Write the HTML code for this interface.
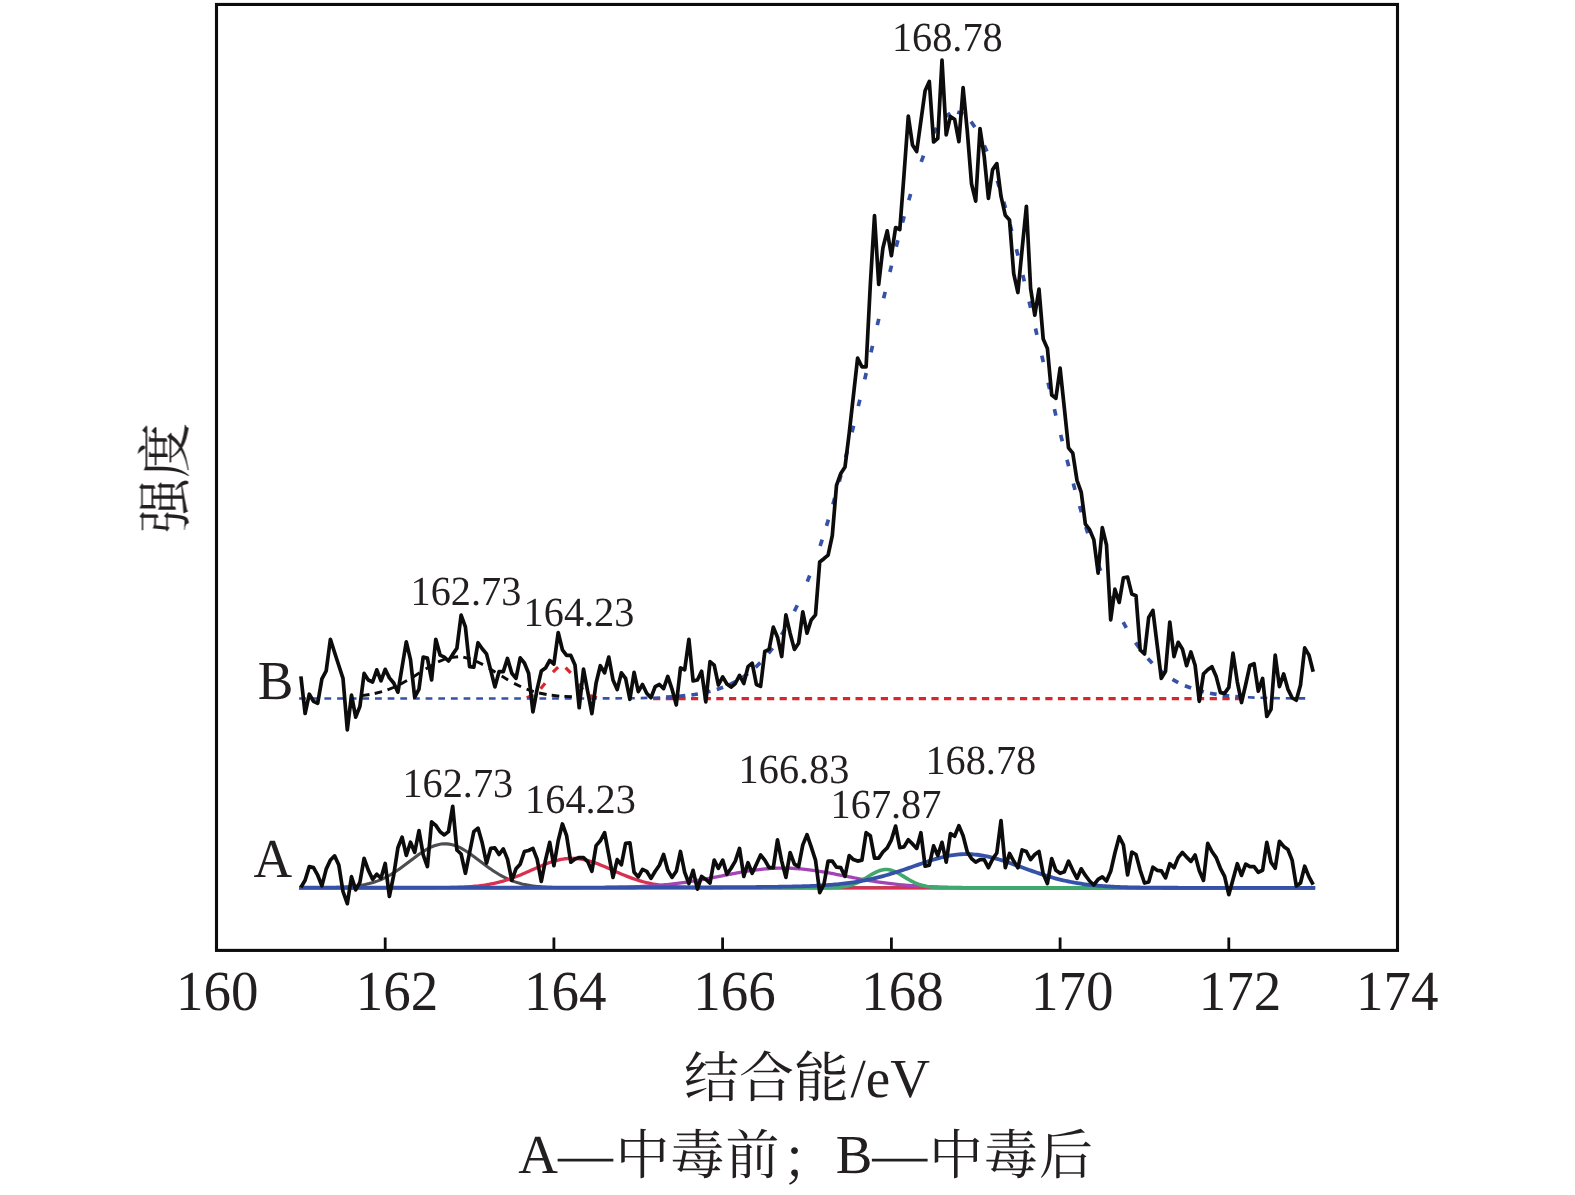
<!DOCTYPE html>
<html lang="zh"><head><meta charset="utf-8"><title>XPS S2p</title>
<style>
html,body{margin:0;padding:0;background:#fff;}
svg{display:block;}
text{font-family:"Liberation Serif","Noto Serif CJK SC",serif;fill:#231f20;text-rendering:geometricPrecision;}
.cj{font-family:"Noto Serif CJK SC","Liberation Serif",serif;}
</style></head><body>
<svg width="1575" height="1195" viewBox="0 0 1575 1195">
<rect width="1575" height="1195" fill="#fff"/>
<path d="M299.1,887.79 L301.1,887.79 L303.1,887.79 L305.1,887.79 L307.1,887.78 L309.1,887.78 L311.1,887.77 L313.1,887.76 L315.1,887.76 L317.1,887.74 L319.1,887.73 L321.1,887.72 L323.1,887.70 L325.1,887.68 L327.1,887.65 L329.1,887.62 L331.1,887.58 L333.1,887.53 L335.1,887.48 L337.1,887.42 L339.1,887.35 L341.1,887.26 L343.1,887.16 L345.1,887.05 L347.1,886.92 L349.1,886.77 L351.1,886.60 L353.1,886.40 L355.1,886.18 L357.1,885.92 L359.1,885.63 L361.1,885.31 L363.1,884.95 L365.1,884.55 L367.1,884.10 L369.1,883.61 L371.1,883.06 L373.1,882.47 L375.1,881.81 L377.1,881.10 L379.1,880.32 L381.1,879.49 L383.1,878.59 L385.1,877.63 L387.1,876.60 L389.1,875.51 L391.1,874.36 L393.1,873.15 L395.1,871.88 L397.1,870.55 L399.1,869.18 L401.1,867.76 L403.1,866.31 L405.1,864.83 L407.1,863.32 L409.1,861.80 L411.1,860.27 L413.1,858.76 L415.1,857.25 L417.1,855.78 L419.1,854.34 L421.1,852.95 L423.1,851.62 L425.1,850.37 L427.1,849.19 L429.1,848.11 L431.1,847.14 L433.1,846.27 L435.1,845.53 L437.1,844.91 L439.1,844.42 L441.1,844.07 L443.1,843.86 L445.1,843.80 L447.1,843.88 L449.1,844.10 L451.1,844.46 L453.1,844.96 L455.1,845.59 L457.1,846.35 L459.1,847.23 L461.1,848.22 L463.1,849.31 L465.1,850.49 L467.1,851.75 L469.1,853.09 L471.1,854.48 L473.1,855.92 L475.1,857.40 L477.1,858.91 L479.1,860.43 L481.1,861.95 L483.1,863.47 L485.1,864.97 L487.1,866.46 L489.1,867.91 L491.1,869.32 L493.1,870.69 L495.1,872.00 L497.1,873.27 L499.1,874.48 L501.1,875.62 L503.1,876.71 L505.1,877.73 L507.1,878.68 L509.1,879.58 L511.1,880.40 L513.1,881.17 L515.1,881.88 L517.1,882.53 L519.1,883.12 L521.1,883.66 L523.1,884.15 L525.1,884.59 L527.1,884.99 L529.1,885.35 L531.1,885.67 L533.1,885.95 L535.1,886.20 L537.1,886.42 L539.1,886.61 L541.1,886.79 L543.1,886.93 L545.1,887.06 L547.1,887.18 L549.1,887.27 L551.1,887.36 L553.1,887.43 L555.1,887.49 L557.1,887.54 L559.1,887.58 L561.1,887.62 L563.1,887.65 L565.1,887.68 L567.1,887.70 L569.1,887.72 L571.1,887.73 L573.1,887.75 L575.1,887.76 L577.1,887.76 L579.1,887.77 L581.1,887.78 L583.1,887.78 L585.1,887.79 L587.1,887.79 L589.1,887.79 L591.1,887.79 L593.1,887.79 L595.1,887.80 L597.1,887.80 L599.1,887.80 L601.1,887.80 L603.1,887.80 L605.1,887.80 L607.1,887.80 L609.1,887.80 L611.1,887.80 L613.1,887.80 L615.1,887.80 L617.1,887.80 L619.1,887.80 L621.1,887.80 L623.1,887.80 L625.1,887.80 L627.1,887.80 L629.1,887.80 L631.1,887.80 L633.1,887.80 L635.1,887.80 L637.1,887.80 L639.1,887.80 L641.1,887.80 L643.1,887.80 L645.1,887.80 L647.1,887.80 L649.1,887.80 L651.1,887.80 L653.1,887.80 L655.1,887.80 L657.1,887.80 L659.1,887.80 L661.1,887.80 L663.1,887.80 L665.1,887.80 L667.1,887.80 L669.1,887.80 L671.1,887.80 L673.1,887.80 L675.1,887.80 L677.1,887.80 L679.1,887.80 L681.1,887.80 L683.1,887.80 L685.1,887.80 L687.1,887.80 L689.1,887.80 L691.1,887.80 L693.1,887.80 L695.1,887.80 L697.1,887.80 L699.1,887.80 L701.1,887.80 L703.1,887.80 L705.1,887.80 L707.1,887.80 L709.1,887.80 L711.1,887.80 L713.1,887.80 L715.1,887.80 L717.1,887.80 L719.1,887.80 L721.1,887.80 L723.1,887.80 L725.1,887.80 L727.1,887.80 L729.1,887.80 L731.1,887.80 L733.1,887.80 L735.1,887.80 L737.1,887.80 L739.1,887.80 L741.1,887.80 L743.1,887.80 L745.1,887.80 L747.1,887.80 L749.1,887.80 L751.1,887.80 L753.1,887.80 L755.1,887.80 L757.1,887.80 L759.1,887.80 L761.1,887.80 L763.1,887.80 L765.1,887.80 L767.1,887.80 L769.1,887.80 L771.1,887.80 L773.1,887.80 L775.1,887.80 L777.1,887.80 L779.1,887.80 L781.1,887.80 L783.1,887.80 L785.1,887.80 L787.1,887.80 L789.1,887.80 L791.1,887.80 L793.1,887.80 L795.1,887.80 L797.1,887.80 L799.1,887.80 L801.1,887.80 L803.1,887.80 L805.1,887.80 L807.1,887.80 L809.1,887.80 L811.1,887.80 L813.1,887.80 L815.1,887.80 L817.1,887.80 L819.1,887.80 L821.1,887.80 L823.1,887.80 L825.1,887.80 L827.1,887.80 L829.1,887.80 L831.1,887.80 L833.1,887.80 L835.1,887.80 L837.1,887.80 L839.1,887.80 L841.1,887.80 L843.1,887.80 L845.1,887.80 L847.1,887.80 L849.1,887.80 L851.1,887.80 L853.1,887.80 L855.1,887.80 L857.1,887.80 L859.1,887.80 L861.1,887.80 L863.1,887.80 L865.1,887.80 L867.1,887.80 L869.1,887.80 L871.1,887.80 L873.1,887.80 L875.1,887.80 L877.1,887.80 L879.1,887.80 L881.1,887.80 L883.1,887.80 L885.1,887.80 L887.1,887.80 L889.1,887.80 L891.1,887.80 L893.1,887.80 L895.1,887.80 L897.1,887.80 L899.1,887.80 L901.1,887.80 L903.1,887.80 L905.1,887.80 L907.1,887.80 L909.1,887.80 L911.1,887.80 L913.1,887.80 L915.1,887.80 L917.1,887.80 L919.1,887.80 L921.1,887.80 L923.1,887.80 L925.1,887.80 L927.1,887.80 L929.1,887.80 L931.1,887.80 L933.1,887.80 L935.1,887.80 L937.1,887.80 L939.1,887.80 L941.1,887.80 L943.1,887.80 L945.1,887.80 L947.1,887.80 L949.1,887.80 L951.1,887.80 L953.1,887.80 L955.1,887.80 L957.1,887.80 L959.1,887.80 L961.1,887.80 L963.1,887.80 L965.1,887.80 L967.1,887.80 L969.1,887.80 L971.1,887.80 L973.1,887.80 L975.1,887.80 L977.1,887.80 L979.1,887.80 L981.1,887.80 L983.1,887.80 L985.1,887.80 L987.1,887.80 L989.1,887.80 L991.1,887.80 L993.1,887.80 L995.1,887.80 L997.1,887.80 L999.1,887.80 L1001.1,887.80 L1003.1,887.80 L1005.1,887.80 L1007.1,887.80 L1009.1,887.80 L1011.1,887.80 L1013.1,887.80 L1015.1,887.80 L1017.1,887.80 L1019.1,887.80 L1021.1,887.80 L1023.1,887.80 L1025.1,887.80 L1027.1,887.80 L1029.1,887.80 L1031.1,887.80 L1033.1,887.80 L1035.1,887.80 L1037.1,887.80 L1039.1,887.80 L1041.1,887.80 L1043.1,887.80 L1045.1,887.80 L1047.1,887.80 L1049.1,887.80 L1051.1,887.80 L1053.1,887.80 L1055.1,887.80 L1057.1,887.80 L1059.1,887.80 L1061.1,887.80 L1063.1,887.80 L1065.1,887.80 L1067.1,887.80 L1069.1,887.80 L1071.1,887.80 L1073.1,887.80 L1075.1,887.80 L1077.1,887.80 L1079.1,887.80 L1081.1,887.80 L1083.1,887.80 L1085.1,887.80 L1087.1,887.80 L1089.1,887.80 L1091.1,887.80 L1093.1,887.80 L1095.1,887.80 L1097.1,887.80 L1099.1,887.80 L1101.1,887.80 L1103.1,887.80 L1105.1,887.80 L1107.1,887.80 L1109.1,887.80 L1111.1,887.80 L1113.1,887.80 L1115.1,887.80 L1117.1,887.80 L1119.1,887.80 L1121.1,887.80 L1123.1,887.80 L1125.1,887.80 L1127.1,887.80 L1129.1,887.80 L1131.1,887.80 L1133.1,887.80 L1135.1,887.80 L1137.1,887.80 L1139.1,887.80 L1141.1,887.80 L1143.1,887.80 L1145.1,887.80 L1147.1,887.80 L1149.1,887.80 L1151.1,887.80 L1153.1,887.80 L1155.1,887.80 L1157.1,887.80 L1159.1,887.80 L1161.1,887.80 L1163.1,887.80 L1165.1,887.80 L1167.1,887.80 L1169.1,887.80 L1171.1,887.80 L1173.1,887.80 L1175.1,887.80 L1177.1,887.80 L1179.1,887.80 L1181.1,887.80 L1183.1,887.80 L1185.1,887.80 L1187.1,887.80 L1189.1,887.80 L1191.1,887.80 L1193.1,887.80 L1195.1,887.80 L1197.1,887.80 L1199.1,887.80 L1201.1,887.80 L1203.1,887.80 L1205.1,887.80 L1207.1,887.80 L1209.1,887.80 L1211.1,887.80 L1213.1,887.80 L1215.1,887.80 L1217.1,887.80 L1219.1,887.80 L1221.1,887.80 L1223.1,887.80 L1225.1,887.80 L1227.1,887.80 L1229.1,887.80 L1231.1,887.80 L1233.1,887.80 L1235.1,887.80 L1237.1,887.80 L1239.1,887.80 L1241.1,887.80 L1243.1,887.80 L1245.1,887.80 L1247.1,887.80 L1249.1,887.80 L1251.1,887.80 L1253.1,887.80 L1255.1,887.80 L1257.1,887.80 L1259.1,887.80 L1261.1,887.80 L1263.1,887.80 L1265.1,887.80 L1267.1,887.80 L1269.1,887.80 L1271.1,887.80 L1273.1,887.80 L1275.1,887.80 L1277.1,887.80 L1279.1,887.80 L1281.1,887.80 L1283.1,887.80 L1285.1,887.80 L1287.1,887.80 L1289.1,887.80 L1291.1,887.80 L1293.1,887.80 L1295.1,887.80 L1297.1,887.80 L1299.1,887.80 L1301.1,887.80 L1303.1,887.80 L1305.1,887.80 L1307.1,887.80 L1309.1,887.80 L1311.1,887.80 L1313.1,887.80 L1315.1,887.80" fill="none" stroke="#4d4d52" stroke-width="3.1" stroke-linejoin="round"/>
<path d="M299.1,887.80 L301.1,887.80 L303.1,887.80 L305.1,887.80 L307.1,887.80 L309.1,887.80 L311.1,887.80 L313.1,887.80 L315.1,887.80 L317.1,887.80 L319.1,887.80 L321.1,887.80 L323.1,887.80 L325.1,887.80 L327.1,887.80 L329.1,887.80 L331.1,887.80 L333.1,887.80 L335.1,887.80 L337.1,887.80 L339.1,887.80 L341.1,887.80 L343.1,887.80 L345.1,887.80 L347.1,887.80 L349.1,887.80 L351.1,887.80 L353.1,887.80 L355.1,887.80 L357.1,887.80 L359.1,887.80 L361.1,887.80 L363.1,887.80 L365.1,887.80 L367.1,887.80 L369.1,887.80 L371.1,887.80 L373.1,887.80 L375.1,887.80 L377.1,887.80 L379.1,887.80 L381.1,887.80 L383.1,887.80 L385.1,887.80 L387.1,887.80 L389.1,887.80 L391.1,887.80 L393.1,887.80 L395.1,887.80 L397.1,887.80 L399.1,887.80 L401.1,887.80 L403.1,887.80 L405.1,887.80 L407.1,887.79 L409.1,887.79 L411.1,887.79 L413.1,887.79 L415.1,887.79 L417.1,887.78 L419.1,887.78 L421.1,887.78 L423.1,887.77 L425.1,887.77 L427.1,887.76 L429.1,887.75 L431.1,887.74 L433.1,887.73 L435.1,887.72 L437.1,887.70 L439.1,887.68 L441.1,887.66 L443.1,887.64 L445.1,887.61 L447.1,887.57 L449.1,887.54 L451.1,887.49 L453.1,887.44 L455.1,887.39 L457.1,887.32 L459.1,887.25 L461.1,887.17 L463.1,887.08 L465.1,886.97 L467.1,886.85 L469.1,886.72 L471.1,886.58 L473.1,886.41 L475.1,886.23 L477.1,886.03 L479.1,885.81 L481.1,885.57 L483.1,885.30 L485.1,885.01 L487.1,884.70 L489.1,884.36 L491.1,883.98 L493.1,883.58 L495.1,883.15 L497.1,882.69 L499.1,882.20 L501.1,881.67 L503.1,881.11 L505.1,880.52 L507.1,879.89 L509.1,879.23 L511.1,878.54 L513.1,877.82 L515.1,877.07 L517.1,876.30 L519.1,875.50 L521.1,874.67 L523.1,873.83 L525.1,872.96 L527.1,872.09 L529.1,871.20 L531.1,870.31 L533.1,869.42 L535.1,868.52 L537.1,867.64 L539.1,866.77 L541.1,865.91 L543.1,865.08 L545.1,864.27 L547.1,863.50 L549.1,862.76 L551.1,862.06 L553.1,861.42 L555.1,860.82 L557.1,860.28 L559.1,859.79 L561.1,859.38 L563.1,859.02 L565.1,858.74 L567.1,858.52 L569.1,858.38 L571.1,858.31 L573.1,858.31 L575.1,858.39 L577.1,858.54 L579.1,858.76 L581.1,859.05 L583.1,859.41 L585.1,859.84 L587.1,860.33 L589.1,860.88 L591.1,861.48 L593.1,862.13 L595.1,862.83 L597.1,863.57 L599.1,864.35 L601.1,865.16 L603.1,866.00 L605.1,866.85 L607.1,867.73 L609.1,868.61 L611.1,869.50 L613.1,870.40 L615.1,871.29 L617.1,872.18 L619.1,873.05 L621.1,873.91 L623.1,874.76 L625.1,875.58 L627.1,876.38 L629.1,877.15 L631.1,877.90 L633.1,878.61 L635.1,879.30 L637.1,879.95 L639.1,880.58 L641.1,881.17 L643.1,881.72 L645.1,882.25 L647.1,882.74 L649.1,883.20 L651.1,883.62 L653.1,884.02 L655.1,884.39 L657.1,884.73 L659.1,885.04 L661.1,885.33 L663.1,885.59 L665.1,885.83 L667.1,886.05 L669.1,886.25 L671.1,886.43 L673.1,886.59 L675.1,886.74 L677.1,886.87 L679.1,886.98 L681.1,887.08 L683.1,887.18 L685.1,887.26 L687.1,887.33 L689.1,887.39 L691.1,887.45 L693.1,887.50 L695.1,887.54 L697.1,887.58 L699.1,887.61 L701.1,887.64 L703.1,887.66 L705.1,887.68 L707.1,887.70 L709.1,887.72 L711.1,887.73 L713.1,887.74 L715.1,887.75 L717.1,887.76 L719.1,887.77 L721.1,887.77 L723.1,887.78 L725.1,887.78 L727.1,887.78 L729.1,887.79 L731.1,887.79 L733.1,887.79 L735.1,887.79 L737.1,887.79 L739.1,887.80 L741.1,887.80 L743.1,887.80 L745.1,887.80 L747.1,887.80 L749.1,887.80 L751.1,887.80 L753.1,887.80 L755.1,887.80 L757.1,887.80 L759.1,887.80 L761.1,887.80 L763.1,887.80 L765.1,887.80 L767.1,887.80 L769.1,887.80 L771.1,887.80 L773.1,887.80 L775.1,887.80 L777.1,887.80 L779.1,887.80 L781.1,887.80 L783.1,887.80 L785.1,887.80 L787.1,887.80 L789.1,887.80 L791.1,887.80 L793.1,887.80 L795.1,887.80 L797.1,887.80 L799.1,887.80 L801.1,887.80 L803.1,887.80 L805.1,887.80 L807.1,887.80 L809.1,887.80 L811.1,887.80 L813.1,887.80 L815.1,887.80 L817.1,887.80 L819.1,887.80 L821.1,887.80 L823.1,887.80 L825.1,887.80 L827.1,887.80 L829.1,887.80 L831.1,887.80 L833.1,887.80 L835.1,887.80 L837.1,887.80 L839.1,887.80 L841.1,887.80 L843.1,887.80 L845.1,887.80 L847.1,887.80 L849.1,887.80 L851.1,887.80 L853.1,887.80 L855.1,887.80 L857.1,887.80 L859.1,887.80 L861.1,887.80 L863.1,887.80 L865.1,887.80 L867.1,887.80 L869.1,887.80 L871.1,887.80 L873.1,887.80 L875.1,887.80 L877.1,887.80 L879.1,887.80 L881.1,887.80 L883.1,887.80 L885.1,887.80 L887.1,887.80 L889.1,887.80 L891.1,887.80 L893.1,887.80 L895.1,887.80 L897.1,887.80 L899.1,887.80 L901.1,887.80 L903.1,887.80 L905.1,887.80 L907.1,887.80 L909.1,887.80 L911.1,887.80 L913.1,887.80 L915.1,887.80 L917.1,887.80 L919.1,887.80 L921.1,887.80 L923.1,887.80 L925.1,887.80 L927.1,887.80 L929.1,887.80 L931.1,887.80 L933.1,887.80 L935.1,887.80 L937.1,887.80 L939.1,887.80 L941.1,887.80 L943.1,887.80 L945.1,887.80 L947.1,887.80 L949.1,887.80 L951.1,887.80 L953.1,887.80 L955.1,887.80 L957.1,887.80 L959.1,887.80 L961.1,887.80 L963.1,887.80 L965.1,887.80 L967.1,887.80 L969.1,887.80 L971.1,887.80 L973.1,887.80 L975.1,887.80 L977.1,887.80 L979.1,887.80 L981.1,887.80 L983.1,887.80 L985.1,887.80 L987.1,887.80 L989.1,887.80 L991.1,887.80 L993.1,887.80 L995.1,887.80 L997.1,887.80 L999.1,887.80 L1001.1,887.80 L1003.1,887.80 L1005.1,887.80 L1007.1,887.80 L1009.1,887.80 L1011.1,887.80 L1013.1,887.80 L1015.1,887.80 L1017.1,887.80 L1019.1,887.80 L1021.1,887.80 L1023.1,887.80 L1025.1,887.80 L1027.1,887.80 L1029.1,887.80 L1031.1,887.80 L1033.1,887.80 L1035.1,887.80 L1037.1,887.80 L1039.1,887.80 L1041.1,887.80 L1043.1,887.80 L1045.1,887.80 L1047.1,887.80 L1049.1,887.80 L1051.1,887.80 L1053.1,887.80 L1055.1,887.80 L1057.1,887.80 L1059.1,887.80 L1061.1,887.80 L1063.1,887.80 L1065.1,887.80 L1067.1,887.80 L1069.1,887.80 L1071.1,887.80 L1073.1,887.80 L1075.1,887.80 L1077.1,887.80 L1079.1,887.80 L1081.1,887.80 L1083.1,887.80 L1085.1,887.80 L1087.1,887.80 L1089.1,887.80 L1091.1,887.80 L1093.1,887.80 L1095.1,887.80 L1097.1,887.80 L1099.1,887.80 L1101.1,887.80 L1103.1,887.80 L1105.1,887.80 L1107.1,887.80 L1109.1,887.80 L1111.1,887.80 L1113.1,887.80 L1115.1,887.80 L1117.1,887.80 L1119.1,887.80 L1121.1,887.80 L1123.1,887.80 L1125.1,887.80 L1127.1,887.80 L1129.1,887.80 L1131.1,887.80 L1133.1,887.80 L1135.1,887.80 L1137.1,887.80 L1139.1,887.80 L1141.1,887.80 L1143.1,887.80 L1145.1,887.80 L1147.1,887.80 L1149.1,887.80 L1151.1,887.80 L1153.1,887.80 L1155.1,887.80 L1157.1,887.80 L1159.1,887.80 L1161.1,887.80 L1163.1,887.80 L1165.1,887.80 L1167.1,887.80 L1169.1,887.80 L1171.1,887.80 L1173.1,887.80 L1175.1,887.80 L1177.1,887.80 L1179.1,887.80 L1181.1,887.80 L1183.1,887.80 L1185.1,887.80 L1187.1,887.80 L1189.1,887.80 L1191.1,887.80 L1193.1,887.80 L1195.1,887.80 L1197.1,887.80 L1199.1,887.80 L1201.1,887.80 L1203.1,887.80 L1205.1,887.80 L1207.1,887.80 L1209.1,887.80 L1211.1,887.80 L1213.1,887.80 L1215.1,887.80 L1217.1,887.80 L1219.1,887.80 L1221.1,887.80 L1223.1,887.80 L1225.1,887.80 L1227.1,887.80 L1229.1,887.80 L1231.1,887.80 L1233.1,887.80 L1235.1,887.80 L1237.1,887.80 L1239.1,887.80 L1241.1,887.80 L1243.1,887.80 L1245.1,887.80 L1247.1,887.80 L1249.1,887.80 L1251.1,887.80 L1253.1,887.80 L1255.1,887.80 L1257.1,887.80 L1259.1,887.80 L1261.1,887.80 L1263.1,887.80 L1265.1,887.80 L1267.1,887.80 L1269.1,887.80 L1271.1,887.80 L1273.1,887.80 L1275.1,887.80 L1277.1,887.80 L1279.1,887.80 L1281.1,887.80 L1283.1,887.80 L1285.1,887.80 L1287.1,887.80 L1289.1,887.80 L1291.1,887.80 L1293.1,887.80 L1295.1,887.80 L1297.1,887.80 L1299.1,887.80 L1301.1,887.80 L1303.1,887.80 L1305.1,887.80 L1307.1,887.80 L1309.1,887.80 L1311.1,887.80 L1313.1,887.80 L1315.1,887.80" fill="none" stroke="#d8304f" stroke-width="3.3" stroke-linejoin="round"/>
<path d="M299.1,887.80 L301.1,887.80 L303.1,887.80 L305.1,887.80 L307.1,887.80 L309.1,887.80 L311.1,887.80 L313.1,887.80 L315.1,887.80 L317.1,887.80 L319.1,887.80 L321.1,887.80 L323.1,887.80 L325.1,887.80 L327.1,887.80 L329.1,887.80 L331.1,887.80 L333.1,887.80 L335.1,887.80 L337.1,887.80 L339.1,887.80 L341.1,887.80 L343.1,887.80 L345.1,887.80 L347.1,887.80 L349.1,887.80 L351.1,887.80 L353.1,887.80 L355.1,887.80 L357.1,887.80 L359.1,887.80 L361.1,887.80 L363.1,887.80 L365.1,887.80 L367.1,887.80 L369.1,887.80 L371.1,887.80 L373.1,887.80 L375.1,887.80 L377.1,887.80 L379.1,887.80 L381.1,887.80 L383.1,887.80 L385.1,887.80 L387.1,887.80 L389.1,887.80 L391.1,887.80 L393.1,887.80 L395.1,887.80 L397.1,887.80 L399.1,887.80 L401.1,887.80 L403.1,887.80 L405.1,887.80 L407.1,887.80 L409.1,887.80 L411.1,887.80 L413.1,887.80 L415.1,887.80 L417.1,887.80 L419.1,887.80 L421.1,887.80 L423.1,887.80 L425.1,887.80 L427.1,887.80 L429.1,887.80 L431.1,887.80 L433.1,887.80 L435.1,887.80 L437.1,887.80 L439.1,887.80 L441.1,887.80 L443.1,887.80 L445.1,887.80 L447.1,887.80 L449.1,887.80 L451.1,887.80 L453.1,887.80 L455.1,887.80 L457.1,887.80 L459.1,887.80 L461.1,887.80 L463.1,887.80 L465.1,887.80 L467.1,887.80 L469.1,887.80 L471.1,887.80 L473.1,887.80 L475.1,887.80 L477.1,887.80 L479.1,887.80 L481.1,887.80 L483.1,887.80 L485.1,887.80 L487.1,887.80 L489.1,887.80 L491.1,887.80 L493.1,887.80 L495.1,887.80 L497.1,887.80 L499.1,887.80 L501.1,887.80 L503.1,887.80 L505.1,887.80 L507.1,887.80 L509.1,887.80 L511.1,887.80 L513.1,887.80 L515.1,887.80 L517.1,887.80 L519.1,887.80 L521.1,887.80 L523.1,887.80 L525.1,887.80 L527.1,887.80 L529.1,887.80 L531.1,887.80 L533.1,887.80 L535.1,887.79 L537.1,887.79 L539.1,887.79 L541.1,887.79 L543.1,887.79 L545.1,887.79 L547.1,887.79 L549.1,887.79 L551.1,887.79 L553.1,887.78 L555.1,887.78 L557.1,887.78 L559.1,887.78 L561.1,887.77 L563.1,887.77 L565.1,887.77 L567.1,887.76 L569.1,887.76 L571.1,887.75 L573.1,887.75 L575.1,887.74 L577.1,887.73 L579.1,887.73 L581.1,887.72 L583.1,887.71 L585.1,887.70 L587.1,887.69 L589.1,887.67 L591.1,887.66 L593.1,887.65 L595.1,887.63 L597.1,887.61 L599.1,887.59 L601.1,887.57 L603.1,887.55 L605.1,887.52 L607.1,887.49 L609.1,887.46 L611.1,887.43 L613.1,887.39 L615.1,887.35 L617.1,887.31 L619.1,887.27 L621.1,887.22 L623.1,887.17 L625.1,887.11 L627.1,887.05 L629.1,886.98 L631.1,886.91 L633.1,886.84 L635.1,886.76 L637.1,886.67 L639.1,886.58 L641.1,886.48 L643.1,886.38 L645.1,886.27 L647.1,886.15 L649.1,886.03 L651.1,885.90 L653.1,885.76 L655.1,885.61 L657.1,885.46 L659.1,885.30 L661.1,885.13 L663.1,884.95 L665.1,884.76 L667.1,884.56 L669.1,884.35 L671.1,884.14 L673.1,883.91 L675.1,883.68 L677.1,883.43 L679.1,883.18 L681.1,882.92 L683.1,882.65 L685.1,882.37 L687.1,882.08 L689.1,881.78 L691.1,881.47 L693.1,881.15 L695.1,880.82 L697.1,880.49 L699.1,880.15 L701.1,879.80 L703.1,879.45 L705.1,879.08 L707.1,878.72 L709.1,878.34 L711.1,877.96 L713.1,877.58 L715.1,877.20 L717.1,876.81 L719.1,876.42 L721.1,876.03 L723.1,875.64 L725.1,875.24 L727.1,874.85 L729.1,874.47 L731.1,874.08 L733.1,873.70 L735.1,873.33 L737.1,872.96 L739.1,872.59 L741.1,872.24 L743.1,871.89 L745.1,871.56 L747.1,871.23 L749.1,870.92 L751.1,870.62 L753.1,870.33 L755.1,870.06 L757.1,869.80 L759.1,869.56 L761.1,869.33 L763.1,869.12 L765.1,868.93 L767.1,868.76 L769.1,868.60 L771.1,868.47 L773.1,868.36 L775.1,868.26 L777.1,868.19 L779.1,868.14 L781.1,868.11 L783.1,868.10 L785.1,868.11 L787.1,868.14 L789.1,868.20 L791.1,868.27 L793.1,868.37 L795.1,868.48 L797.1,868.62 L799.1,868.77 L801.1,868.95 L803.1,869.14 L805.1,869.35 L807.1,869.58 L809.1,869.82 L811.1,870.08 L813.1,870.36 L815.1,870.65 L817.1,870.95 L819.1,871.26 L821.1,871.59 L823.1,871.93 L825.1,872.27 L827.1,872.63 L829.1,872.99 L831.1,873.36 L833.1,873.74 L835.1,874.12 L837.1,874.51 L839.1,874.89 L841.1,875.28 L843.1,875.68 L845.1,876.07 L847.1,876.46 L849.1,876.85 L851.1,877.24 L853.1,877.62 L855.1,878.00 L857.1,878.38 L859.1,878.75 L861.1,879.12 L863.1,879.48 L865.1,879.84 L867.1,880.18 L869.1,880.52 L871.1,880.86 L873.1,881.18 L875.1,881.50 L877.1,881.81 L879.1,882.10 L881.1,882.39 L883.1,882.67 L885.1,882.95 L887.1,883.21 L889.1,883.46 L891.1,883.70 L893.1,883.94 L895.1,884.16 L897.1,884.37 L899.1,884.58 L901.1,884.78 L903.1,884.96 L905.1,885.14 L907.1,885.31 L909.1,885.47 L911.1,885.63 L913.1,885.77 L915.1,885.91 L917.1,886.04 L919.1,886.17 L921.1,886.28 L923.1,886.39 L925.1,886.49 L927.1,886.59 L929.1,886.68 L931.1,886.77 L933.1,886.85 L935.1,886.92 L937.1,886.99 L939.1,887.05 L941.1,887.11 L943.1,887.17 L945.1,887.22 L947.1,887.27 L949.1,887.32 L951.1,887.36 L953.1,887.40 L955.1,887.43 L957.1,887.46 L959.1,887.49 L961.1,887.52 L963.1,887.55 L965.1,887.57 L967.1,887.59 L969.1,887.61 L971.1,887.63 L973.1,887.65 L975.1,887.66 L977.1,887.68 L979.1,887.69 L981.1,887.70 L983.1,887.71 L985.1,887.72 L987.1,887.73 L989.1,887.73 L991.1,887.74 L993.1,887.75 L995.1,887.75 L997.1,887.76 L999.1,887.76 L1001.1,887.77 L1003.1,887.77 L1005.1,887.77 L1007.1,887.78 L1009.1,887.78 L1011.1,887.78 L1013.1,887.78 L1015.1,887.79 L1017.1,887.79 L1019.1,887.79 L1021.1,887.79 L1023.1,887.79 L1025.1,887.79 L1027.1,887.79 L1029.1,887.79 L1031.1,887.79 L1033.1,887.80 L1035.1,887.80 L1037.1,887.80 L1039.1,887.80 L1041.1,887.80 L1043.1,887.80 L1045.1,887.80 L1047.1,887.80 L1049.1,887.80 L1051.1,887.80 L1053.1,887.80 L1055.1,887.80 L1057.1,887.80 L1059.1,887.80 L1061.1,887.80 L1063.1,887.80 L1065.1,887.80 L1067.1,887.80 L1069.1,887.80 L1071.1,887.80 L1073.1,887.80 L1075.1,887.80 L1077.1,887.80 L1079.1,887.80 L1081.1,887.80 L1083.1,887.80 L1085.1,887.80 L1087.1,887.80 L1089.1,887.80 L1091.1,887.80 L1093.1,887.80 L1095.1,887.80 L1097.1,887.80 L1099.1,887.80 L1101.1,887.80 L1103.1,887.80 L1105.1,887.80 L1107.1,887.80 L1109.1,887.80 L1111.1,887.80 L1113.1,887.80 L1115.1,887.80 L1117.1,887.80 L1119.1,887.80 L1121.1,887.80 L1123.1,887.80 L1125.1,887.80 L1127.1,887.80 L1129.1,887.80 L1131.1,887.80 L1133.1,887.80 L1135.1,887.80 L1137.1,887.80 L1139.1,887.80 L1141.1,887.80 L1143.1,887.80 L1145.1,887.80 L1147.1,887.80 L1149.1,887.80 L1151.1,887.80 L1153.1,887.80 L1155.1,887.80 L1157.1,887.80 L1159.1,887.80 L1161.1,887.80 L1163.1,887.80 L1165.1,887.80 L1167.1,887.80 L1169.1,887.80 L1171.1,887.80 L1173.1,887.80 L1175.1,887.80 L1177.1,887.80 L1179.1,887.80 L1181.1,887.80 L1183.1,887.80 L1185.1,887.80 L1187.1,887.80 L1189.1,887.80 L1191.1,887.80 L1193.1,887.80 L1195.1,887.80 L1197.1,887.80 L1199.1,887.80 L1201.1,887.80 L1203.1,887.80 L1205.1,887.80 L1207.1,887.80 L1209.1,887.80 L1211.1,887.80 L1213.1,887.80 L1215.1,887.80 L1217.1,887.80 L1219.1,887.80 L1221.1,887.80 L1223.1,887.80 L1225.1,887.80 L1227.1,887.80 L1229.1,887.80 L1231.1,887.80 L1233.1,887.80 L1235.1,887.80 L1237.1,887.80 L1239.1,887.80 L1241.1,887.80 L1243.1,887.80 L1245.1,887.80 L1247.1,887.80 L1249.1,887.80 L1251.1,887.80 L1253.1,887.80 L1255.1,887.80 L1257.1,887.80 L1259.1,887.80 L1261.1,887.80 L1263.1,887.80 L1265.1,887.80 L1267.1,887.80 L1269.1,887.80 L1271.1,887.80 L1273.1,887.80 L1275.1,887.80 L1277.1,887.80 L1279.1,887.80 L1281.1,887.80 L1283.1,887.80 L1285.1,887.80 L1287.1,887.80 L1289.1,887.80 L1291.1,887.80 L1293.1,887.80 L1295.1,887.80 L1297.1,887.80 L1299.1,887.80 L1301.1,887.80 L1303.1,887.80 L1305.1,887.80 L1307.1,887.80 L1309.1,887.80 L1311.1,887.80 L1313.1,887.80 L1315.1,887.80" fill="none" stroke="#a244b4" stroke-width="3.3" stroke-linejoin="round"/>
<path d="M299.1,887.80 L301.1,887.80 L303.1,887.80 L305.1,887.80 L307.1,887.80 L309.1,887.80 L311.1,887.80 L313.1,887.80 L315.1,887.80 L317.1,887.80 L319.1,887.80 L321.1,887.80 L323.1,887.80 L325.1,887.80 L327.1,887.80 L329.1,887.80 L331.1,887.80 L333.1,887.80 L335.1,887.80 L337.1,887.80 L339.1,887.80 L341.1,887.80 L343.1,887.80 L345.1,887.80 L347.1,887.80 L349.1,887.80 L351.1,887.80 L353.1,887.80 L355.1,887.80 L357.1,887.80 L359.1,887.80 L361.1,887.80 L363.1,887.80 L365.1,887.80 L367.1,887.80 L369.1,887.80 L371.1,887.80 L373.1,887.80 L375.1,887.80 L377.1,887.80 L379.1,887.80 L381.1,887.80 L383.1,887.80 L385.1,887.80 L387.1,887.80 L389.1,887.80 L391.1,887.80 L393.1,887.80 L395.1,887.80 L397.1,887.80 L399.1,887.80 L401.1,887.80 L403.1,887.80 L405.1,887.80 L407.1,887.80 L409.1,887.80 L411.1,887.80 L413.1,887.80 L415.1,887.80 L417.1,887.80 L419.1,887.80 L421.1,887.80 L423.1,887.80 L425.1,887.80 L427.1,887.80 L429.1,887.80 L431.1,887.80 L433.1,887.80 L435.1,887.80 L437.1,887.80 L439.1,887.80 L441.1,887.80 L443.1,887.80 L445.1,887.80 L447.1,887.80 L449.1,887.80 L451.1,887.80 L453.1,887.80 L455.1,887.80 L457.1,887.80 L459.1,887.80 L461.1,887.80 L463.1,887.80 L465.1,887.80 L467.1,887.80 L469.1,887.80 L471.1,887.80 L473.1,887.80 L475.1,887.80 L477.1,887.80 L479.1,887.80 L481.1,887.80 L483.1,887.80 L485.1,887.80 L487.1,887.80 L489.1,887.80 L491.1,887.80 L493.1,887.80 L495.1,887.80 L497.1,887.80 L499.1,887.80 L501.1,887.80 L503.1,887.80 L505.1,887.80 L507.1,887.80 L509.1,887.80 L511.1,887.80 L513.1,887.80 L515.1,887.80 L517.1,887.80 L519.1,887.80 L521.1,887.80 L523.1,887.80 L525.1,887.80 L527.1,887.80 L529.1,887.80 L531.1,887.80 L533.1,887.80 L535.1,887.80 L537.1,887.80 L539.1,887.80 L541.1,887.80 L543.1,887.80 L545.1,887.80 L547.1,887.80 L549.1,887.80 L551.1,887.80 L553.1,887.80 L555.1,887.80 L557.1,887.80 L559.1,887.80 L561.1,887.80 L563.1,887.80 L565.1,887.80 L567.1,887.80 L569.1,887.80 L571.1,887.80 L573.1,887.80 L575.1,887.80 L577.1,887.80 L579.1,887.80 L581.1,887.80 L583.1,887.80 L585.1,887.80 L587.1,887.80 L589.1,887.80 L591.1,887.80 L593.1,887.80 L595.1,887.80 L597.1,887.80 L599.1,887.80 L601.1,887.80 L603.1,887.80 L605.1,887.80 L607.1,887.80 L609.1,887.80 L611.1,887.80 L613.1,887.80 L615.1,887.80 L617.1,887.80 L619.1,887.80 L621.1,887.80 L623.1,887.80 L625.1,887.80 L627.1,887.80 L629.1,887.80 L631.1,887.80 L633.1,887.80 L635.1,887.80 L637.1,887.80 L639.1,887.80 L641.1,887.80 L643.1,887.80 L645.1,887.80 L647.1,887.80 L649.1,887.80 L651.1,887.80 L653.1,887.80 L655.1,887.80 L657.1,887.80 L659.1,887.80 L661.1,887.80 L663.1,887.80 L665.1,887.80 L667.1,887.80 L669.1,887.80 L671.1,887.80 L673.1,887.80 L675.1,887.80 L677.1,887.80 L679.1,887.80 L681.1,887.80 L683.1,887.80 L685.1,887.80 L687.1,887.80 L689.1,887.80 L691.1,887.80 L693.1,887.80 L695.1,887.80 L697.1,887.80 L699.1,887.80 L701.1,887.80 L703.1,887.80 L705.1,887.80 L707.1,887.80 L709.1,887.80 L711.1,887.80 L713.1,887.80 L715.1,887.80 L717.1,887.80 L719.1,887.80 L721.1,887.80 L723.1,887.80 L725.1,887.80 L727.1,887.80 L729.1,887.80 L731.1,887.80 L733.1,887.80 L735.1,887.80 L737.1,887.80 L739.1,887.80 L741.1,887.80 L743.1,887.80 L745.1,887.80 L747.1,887.80 L749.1,887.80 L751.1,887.80 L753.1,887.80 L755.1,887.80 L757.1,887.80 L759.1,887.80 L761.1,887.80 L763.1,887.80 L765.1,887.80 L767.1,887.80 L769.1,887.80 L771.1,887.80 L773.1,887.80 L775.1,887.80 L777.1,887.80 L779.1,887.80 L781.1,887.80 L783.1,887.80 L785.1,887.80 L787.1,887.80 L789.1,887.80 L791.1,887.80 L793.1,887.80 L795.1,887.80 L797.1,887.80 L799.1,887.80 L801.1,887.80 L803.1,887.80 L805.1,887.80 L807.1,887.80 L809.1,887.80 L811.1,887.80 L813.1,887.79 L815.1,887.79 L817.1,887.79 L819.1,887.78 L821.1,887.77 L823.1,887.76 L825.1,887.74 L827.1,887.71 L829.1,887.68 L831.1,887.63 L833.1,887.56 L835.1,887.46 L837.1,887.34 L839.1,887.19 L841.1,886.98 L843.1,886.73 L845.1,886.42 L847.1,886.03 L849.1,885.56 L851.1,885.01 L853.1,884.36 L855.1,883.61 L857.1,882.76 L859.1,881.81 L861.1,880.77 L863.1,879.65 L865.1,878.47 L867.1,877.26 L869.1,876.02 L871.1,874.81 L873.1,873.64 L875.1,872.57 L877.1,871.61 L879.1,870.80 L881.1,870.17 L883.1,869.74 L885.1,869.52 L887.1,869.53 L889.1,869.77 L891.1,870.22 L893.1,870.87 L895.1,871.70 L897.1,872.67 L899.1,873.76 L901.1,874.93 L903.1,876.15 L905.1,877.38 L907.1,878.59 L909.1,879.77 L911.1,880.88 L913.1,881.91 L915.1,882.85 L917.1,883.69 L919.1,884.43 L921.1,885.07 L923.1,885.61 L925.1,886.07 L927.1,886.45 L929.1,886.76 L931.1,887.01 L933.1,887.20 L935.1,887.36 L937.1,887.47 L939.1,887.56 L941.1,887.63 L943.1,887.68 L945.1,887.72 L947.1,887.74 L949.1,887.76 L951.1,887.77 L953.1,887.78 L955.1,887.79 L957.1,887.79 L959.1,887.80 L961.1,887.80 L963.1,887.80 L965.1,887.80 L967.1,887.80 L969.1,887.80 L971.1,887.80 L973.1,887.80 L975.1,887.80 L977.1,887.80 L979.1,887.80 L981.1,887.80 L983.1,887.80 L985.1,887.80 L987.1,887.80 L989.1,887.80 L991.1,887.80 L993.1,887.80 L995.1,887.80 L997.1,887.80 L999.1,887.80 L1001.1,887.80 L1003.1,887.80 L1005.1,887.80 L1007.1,887.80 L1009.1,887.80 L1011.1,887.80 L1013.1,887.80 L1015.1,887.80 L1017.1,887.80 L1019.1,887.80 L1021.1,887.80 L1023.1,887.80 L1025.1,887.80 L1027.1,887.80 L1029.1,887.80 L1031.1,887.80 L1033.1,887.80 L1035.1,887.80 L1037.1,887.80 L1039.1,887.80 L1041.1,887.80 L1043.1,887.80 L1045.1,887.80 L1047.1,887.80 L1049.1,887.80 L1051.1,887.80 L1053.1,887.80 L1055.1,887.80 L1057.1,887.80 L1059.1,887.80 L1061.1,887.80 L1063.1,887.80 L1065.1,887.80 L1067.1,887.80 L1069.1,887.80 L1071.1,887.80 L1073.1,887.80 L1075.1,887.80 L1077.1,887.80 L1079.1,887.80 L1081.1,887.80 L1083.1,887.80 L1085.1,887.80 L1087.1,887.80 L1089.1,887.80 L1091.1,887.80 L1093.1,887.80 L1095.1,887.80 L1097.1,887.80 L1099.1,887.80 L1101.1,887.80 L1103.1,887.80 L1105.1,887.80 L1107.1,887.80 L1109.1,887.80 L1111.1,887.80 L1113.1,887.80 L1115.1,887.80 L1117.1,887.80 L1119.1,887.80 L1121.1,887.80 L1123.1,887.80 L1125.1,887.80 L1127.1,887.80 L1129.1,887.80 L1131.1,887.80 L1133.1,887.80 L1135.1,887.80 L1137.1,887.80 L1139.1,887.80 L1141.1,887.80 L1143.1,887.80 L1145.1,887.80 L1147.1,887.80 L1149.1,887.80 L1151.1,887.80 L1153.1,887.80 L1155.1,887.80 L1157.1,887.80 L1159.1,887.80 L1161.1,887.80 L1163.1,887.80 L1165.1,887.80 L1167.1,887.80 L1169.1,887.80 L1171.1,887.80 L1173.1,887.80 L1175.1,887.80 L1177.1,887.80 L1179.1,887.80 L1181.1,887.80 L1183.1,887.80 L1185.1,887.80 L1187.1,887.80 L1189.1,887.80 L1191.1,887.80 L1193.1,887.80 L1195.1,887.80 L1197.1,887.80 L1199.1,887.80 L1201.1,887.80 L1203.1,887.80 L1205.1,887.80 L1207.1,887.80 L1209.1,887.80 L1211.1,887.80 L1213.1,887.80 L1215.1,887.80 L1217.1,887.80 L1219.1,887.80 L1221.1,887.80 L1223.1,887.80 L1225.1,887.80 L1227.1,887.80 L1229.1,887.80 L1231.1,887.80 L1233.1,887.80 L1235.1,887.80 L1237.1,887.80 L1239.1,887.80 L1241.1,887.80 L1243.1,887.80 L1245.1,887.80 L1247.1,887.80 L1249.1,887.80 L1251.1,887.80 L1253.1,887.80 L1255.1,887.80 L1257.1,887.80 L1259.1,887.80 L1261.1,887.80 L1263.1,887.80 L1265.1,887.80 L1267.1,887.80 L1269.1,887.80 L1271.1,887.80 L1273.1,887.80 L1275.1,887.80 L1277.1,887.80 L1279.1,887.80 L1281.1,887.80 L1283.1,887.80 L1285.1,887.80 L1287.1,887.80 L1289.1,887.80 L1291.1,887.80 L1293.1,887.80 L1295.1,887.80 L1297.1,887.80 L1299.1,887.80 L1301.1,887.80 L1303.1,887.80 L1305.1,887.80 L1307.1,887.80 L1309.1,887.80 L1311.1,887.80 L1313.1,887.80 L1315.1,887.80" fill="none" stroke="#41a86d" stroke-width="3.6" stroke-linejoin="round"/>
<path d="M299.1,887.72 L301.1,887.72 L303.1,887.72 L305.1,887.72 L307.1,887.72 L309.1,887.72 L311.1,887.72 L313.1,887.71 L315.1,887.71 L317.1,887.71 L319.1,887.71 L321.1,887.71 L323.1,887.71 L325.1,887.71 L327.1,887.71 L329.1,887.71 L331.1,887.71 L333.1,887.71 L335.1,887.71 L337.1,887.71 L339.1,887.71 L341.1,887.71 L343.1,887.71 L345.1,887.71 L347.1,887.71 L349.1,887.70 L351.1,887.70 L353.1,887.70 L355.1,887.70 L357.1,887.70 L359.1,887.70 L361.1,887.70 L363.1,887.70 L365.1,887.70 L367.1,887.70 L369.1,887.70 L371.1,887.70 L373.1,887.70 L375.1,887.70 L377.1,887.70 L379.1,887.69 L381.1,887.69 L383.1,887.69 L385.1,887.69 L387.1,887.69 L389.1,887.69 L391.1,887.69 L393.1,887.69 L395.1,887.69 L397.1,887.69 L399.1,887.69 L401.1,887.69 L403.1,887.69 L405.1,887.69 L407.1,887.68 L409.1,887.68 L411.1,887.68 L413.1,887.68 L415.1,887.68 L417.1,887.68 L419.1,887.68 L421.1,887.68 L423.1,887.68 L425.1,887.68 L427.1,887.68 L429.1,887.67 L431.1,887.67 L433.1,887.67 L435.1,887.67 L437.1,887.67 L439.1,887.67 L441.1,887.67 L443.1,887.67 L445.1,887.67 L447.1,887.67 L449.1,887.67 L451.1,887.66 L453.1,887.66 L455.1,887.66 L457.1,887.66 L459.1,887.66 L461.1,887.66 L463.1,887.66 L465.1,887.66 L467.1,887.66 L469.1,887.65 L471.1,887.65 L473.1,887.65 L475.1,887.65 L477.1,887.65 L479.1,887.65 L481.1,887.65 L483.1,887.65 L485.1,887.64 L487.1,887.64 L489.1,887.64 L491.1,887.64 L493.1,887.64 L495.1,887.64 L497.1,887.64 L499.1,887.64 L501.1,887.63 L503.1,887.63 L505.1,887.63 L507.1,887.63 L509.1,887.63 L511.1,887.63 L513.1,887.63 L515.1,887.62 L517.1,887.62 L519.1,887.62 L521.1,887.62 L523.1,887.62 L525.1,887.62 L527.1,887.61 L529.1,887.61 L531.1,887.61 L533.1,887.61 L535.1,887.61 L537.1,887.61 L539.1,887.60 L541.1,887.60 L543.1,887.60 L545.1,887.60 L547.1,887.60 L549.1,887.59 L551.1,887.59 L553.1,887.59 L555.1,887.59 L557.1,887.59 L559.1,887.58 L561.1,887.58 L563.1,887.58 L565.1,887.58 L567.1,887.58 L569.1,887.57 L571.1,887.57 L573.1,887.57 L575.1,887.57 L577.1,887.56 L579.1,887.56 L581.1,887.56 L583.1,887.56 L585.1,887.55 L587.1,887.55 L589.1,887.55 L591.1,887.55 L593.1,887.54 L595.1,887.54 L597.1,887.54 L599.1,887.54 L601.1,887.53 L603.1,887.53 L605.1,887.53 L607.1,887.52 L609.1,887.52 L611.1,887.52 L613.1,887.52 L615.1,887.51 L617.1,887.51 L619.1,887.51 L621.1,887.50 L623.1,887.50 L625.1,887.50 L627.1,887.49 L629.1,887.49 L631.1,887.49 L633.1,887.48 L635.1,887.48 L637.1,887.47 L639.1,887.47 L641.1,887.47 L643.1,887.46 L645.1,887.46 L647.1,887.45 L649.1,887.45 L651.1,887.45 L653.1,887.44 L655.1,887.44 L657.1,887.43 L659.1,887.43 L661.1,887.42 L663.1,887.42 L665.1,887.41 L667.1,887.41 L669.1,887.40 L671.1,887.40 L673.1,887.39 L675.1,887.39 L677.1,887.38 L679.1,887.38 L681.1,887.37 L683.1,887.37 L685.1,887.36 L687.1,887.35 L689.1,887.35 L691.1,887.34 L693.1,887.34 L695.1,887.33 L697.1,887.32 L699.1,887.32 L701.1,887.31 L703.1,887.30 L705.1,887.29 L707.1,887.29 L709.1,887.28 L711.1,887.27 L713.1,887.26 L715.1,887.25 L717.1,887.25 L719.1,887.24 L721.1,887.23 L723.1,887.22 L725.1,887.21 L727.1,887.20 L729.1,887.19 L731.1,887.18 L733.1,887.17 L735.1,887.16 L737.1,887.15 L739.1,887.14 L741.1,887.13 L743.1,887.11 L745.1,887.10 L747.1,887.09 L749.1,887.07 L751.1,887.06 L753.1,887.04 L755.1,887.03 L757.1,887.01 L759.1,887.00 L761.1,886.98 L763.1,886.96 L765.1,886.94 L767.1,886.92 L769.1,886.90 L771.1,886.88 L773.1,886.85 L775.1,886.83 L777.1,886.80 L779.1,886.77 L781.1,886.74 L783.1,886.71 L785.1,886.68 L787.1,886.64 L789.1,886.60 L791.1,886.56 L793.1,886.52 L795.1,886.47 L797.1,886.42 L799.1,886.36 L801.1,886.31 L803.1,886.25 L805.1,886.18 L807.1,886.11 L809.1,886.04 L811.1,885.96 L813.1,885.87 L815.1,885.78 L817.1,885.68 L819.1,885.58 L821.1,885.47 L823.1,885.35 L825.1,885.22 L827.1,885.08 L829.1,884.94 L831.1,884.79 L833.1,884.62 L835.1,884.45 L837.1,884.27 L839.1,884.07 L841.1,883.86 L843.1,883.64 L845.1,883.41 L847.1,883.17 L849.1,882.91 L851.1,882.63 L853.1,882.35 L855.1,882.04 L857.1,881.72 L859.1,881.39 L861.1,881.04 L863.1,880.68 L865.1,880.29 L867.1,879.89 L869.1,879.48 L871.1,879.04 L873.1,878.59 L875.1,878.13 L877.1,877.64 L879.1,877.14 L881.1,876.62 L883.1,876.09 L885.1,875.53 L887.1,874.97 L889.1,874.39 L891.1,873.79 L893.1,873.18 L895.1,872.55 L897.1,871.92 L899.1,871.27 L901.1,870.61 L903.1,869.94 L905.1,869.26 L907.1,868.58 L909.1,867.89 L911.1,867.19 L913.1,866.50 L915.1,865.80 L917.1,865.10 L919.1,864.41 L921.1,863.72 L923.1,863.03 L925.1,862.36 L927.1,861.69 L929.1,861.04 L931.1,860.41 L933.1,859.79 L935.1,859.19 L937.1,858.61 L939.1,858.06 L941.1,857.53 L943.1,857.03 L945.1,856.57 L947.1,856.14 L949.1,855.74 L951.1,855.39 L953.1,855.07 L955.1,854.80 L957.1,854.57 L959.1,854.38 L961.1,854.24 L963.1,854.15 L965.1,854.10 L967.1,854.11 L969.1,854.15 L971.1,854.24 L973.1,854.37 L975.1,854.54 L977.1,854.76 L979.1,855.01 L981.1,855.30 L983.1,855.64 L985.1,856.00 L987.1,856.41 L989.1,856.85 L991.1,857.32 L993.1,857.82 L995.1,858.36 L997.1,858.92 L999.1,859.50 L1001.1,860.11 L1003.1,860.74 L1005.1,861.39 L1007.1,862.06 L1009.1,862.74 L1011.1,863.43 L1013.1,864.14 L1015.1,864.85 L1017.1,865.58 L1019.1,866.30 L1021.1,867.03 L1023.1,867.76 L1025.1,868.49 L1027.1,869.22 L1029.1,869.94 L1031.1,870.65 L1033.1,871.36 L1035.1,872.06 L1037.1,872.75 L1039.1,873.42 L1041.1,874.09 L1043.1,874.74 L1045.1,875.37 L1047.1,875.99 L1049.1,876.59 L1051.1,877.18 L1053.1,877.75 L1055.1,878.30 L1057.1,878.83 L1059.1,879.34 L1061.1,879.83 L1063.1,880.30 L1065.1,880.76 L1067.1,881.19 L1069.1,881.61 L1071.1,882.01 L1073.1,882.39 L1075.1,882.75 L1077.1,883.09 L1079.1,883.42 L1081.1,883.72 L1083.1,884.01 L1085.1,884.29 L1087.1,884.55 L1089.1,884.79 L1091.1,885.02 L1093.1,885.24 L1095.1,885.44 L1097.1,885.62 L1099.1,885.80 L1101.1,885.96 L1103.1,886.12 L1105.1,886.26 L1107.1,886.39 L1109.1,886.51 L1111.1,886.63 L1113.1,886.73 L1115.1,886.83 L1117.1,886.92 L1119.1,887.00 L1121.1,887.07 L1123.1,887.14 L1125.1,887.20 L1127.1,887.26 L1129.1,887.32 L1131.1,887.36 L1133.1,887.41 L1135.1,887.45 L1137.1,887.48 L1139.1,887.52 L1141.1,887.55 L1143.1,887.57 L1145.1,887.60 L1147.1,887.62 L1149.1,887.64 L1151.1,887.66 L1153.1,887.67 L1155.1,887.69 L1157.1,887.70 L1159.1,887.71 L1161.1,887.72 L1163.1,887.73 L1165.1,887.74 L1167.1,887.75 L1169.1,887.75 L1171.1,887.76 L1173.1,887.76 L1175.1,887.77 L1177.1,887.77 L1179.1,887.78 L1181.1,887.78 L1183.1,887.78 L1185.1,887.78 L1187.1,887.79 L1189.1,887.79 L1191.1,887.79 L1193.1,887.79 L1195.1,887.79 L1197.1,887.79 L1199.1,887.79 L1201.1,887.79 L1203.1,887.80 L1205.1,887.80 L1207.1,887.80 L1209.1,887.80 L1211.1,887.80 L1213.1,887.80 L1215.1,887.80 L1217.1,887.80 L1219.1,887.80 L1221.1,887.80 L1223.1,887.80 L1225.1,887.80 L1227.1,887.80 L1229.1,887.80 L1231.1,887.80 L1233.1,887.80 L1235.1,887.80 L1237.1,887.80 L1239.1,887.80 L1241.1,887.80 L1243.1,887.80 L1245.1,887.80 L1247.1,887.80 L1249.1,887.80 L1251.1,887.80 L1253.1,887.80 L1255.1,887.80 L1257.1,887.80 L1259.1,887.80 L1261.1,887.80 L1263.1,887.80 L1265.1,887.80 L1267.1,887.80 L1269.1,887.80 L1271.1,887.80 L1273.1,887.80 L1275.1,887.80 L1277.1,887.80 L1279.1,887.80 L1281.1,887.80 L1283.1,887.80 L1285.1,887.80 L1287.1,887.80 L1289.1,887.80 L1291.1,887.80 L1293.1,887.80 L1295.1,887.80 L1297.1,887.80 L1299.1,887.80 L1301.1,887.80 L1303.1,887.80 L1305.1,887.80 L1307.1,887.80 L1309.1,887.80 L1311.1,887.80 L1313.1,887.80 L1315.1,887.80" fill="none" stroke="#3552a8" stroke-width="3.8" stroke-linejoin="round"/>
<path d="M526.8,697.7 L533.6,695.0 M540.6,688.8 L545.1,683.2 M552.9,672.1 L558.1,667.2 M565.6,667.7 L570.7,672.8 M578.5,684.1 L583.1,689.6 M590.1,695.4 L596.8,697.8 M653.1,698.7 L660.3,698.7 M665.8,698.7 L673.0,698.7 M678.4,698.7 L685.6,698.7 M691.0,698.7 L698.2,698.7 M703.7,698.7 L710.9,698.7 M716.3,698.7 L723.5,698.7 M729.0,698.7 L736.2,698.7 M741.6,698.7 L748.9,698.7 M754.3,698.7 L761.5,698.7 M767.0,698.7 L774.2,698.7 M779.6,698.7 L786.8,698.7 M792.2,698.7 L799.5,698.7 M804.9,698.7 L812.1,698.7 M817.5,698.7 L824.8,698.7 M830.2,698.7 L837.4,698.7 M842.9,698.7 L850.1,698.7 M855.5,698.7 L862.7,698.7 M868.1,698.7 L875.4,698.7 M880.8,698.7 L888.0,698.7 M893.5,698.7 L900.7,698.7 M906.1,698.7 L913.3,698.7 M918.8,698.7 L926.0,698.7 M931.4,698.7 L938.6,698.7 M944.0,698.7 L951.2,698.7 M956.7,698.7 L963.9,698.7 M969.4,698.7 L976.6,698.7 M982.0,698.7 L989.2,698.7 M994.6,698.7 L1001.9,698.7 M1007.3,698.7 L1014.5,698.7 M1020.0,698.7 L1027.2,698.7 M1032.6,698.7 L1039.8,698.7 M1045.3,698.7 L1052.5,698.7 M1057.9,698.7 L1065.1,698.7 M1070.6,698.7 L1077.8,698.7 M1083.2,698.7 L1090.4,698.7 M1095.9,698.7 L1103.1,698.7 M1108.5,698.7 L1115.7,698.7 M1121.2,698.7 L1128.3,698.7 M1133.8,698.7 L1141.0,698.7 M1146.5,698.7 L1153.7,698.7 M1159.1,698.7 L1166.3,698.7 M1171.8,698.7 L1179.0,698.7 M1184.4,698.7 L1191.6,698.7 M1197.1,698.7 L1204.2,698.7 M1209.7,698.7 L1216.9,698.7 M1222.4,698.7 L1229.6,698.7 M1235.0,698.7 L1242.2,698.7" fill="none" stroke="#d8262c" stroke-width="3.2"/>
<path d="M299.1,698.5 L305.9,698.5 M311.8,698.5 L318.5,698.5 M324.4,698.5 L331.2,698.5 M337.1,698.5 L343.8,698.5 M349.7,698.5 L356.5,698.5 M362.4,698.5 L369.1,698.5 M375.0,698.5 L381.8,698.5 M387.7,698.5 L394.4,698.5 M400.3,698.5 L407.1,698.5 M413.0,698.5 L419.8,698.5 M425.6,698.5 L432.4,698.5 M438.3,698.5 L445.0,698.5 M450.9,698.5 L457.7,698.5 M463.6,698.5 L470.3,698.5 M476.2,698.5 L483.0,698.5 M488.9,698.5 L495.6,698.5 M501.5,698.5 L508.3,698.5 M514.2,698.5 L520.9,698.5 M526.8,698.5 L533.6,698.5 M539.5,698.5 L546.2,698.5 M552.1,698.5 L558.9,698.5 M564.8,698.5 L571.5,698.5 M577.4,698.5 L584.2,698.5 M590.1,698.5 L596.8,698.5 M602.7,698.4 L609.5,698.4 M615.4,698.4 L622.1,698.3 M628.0,698.3 L634.8,698.2 M640.7,698.1 L647.4,697.9 M653.3,697.8 L660.1,697.5 M1247.9,697.3 L1254.6,697.6 M1260.5,697.8 L1267.3,698.0 M1273.2,698.1 L1279.9,698.2 M1285.8,698.3 L1292.6,698.4 M1298.5,698.4 L1305.2,698.4" fill="none" stroke="#3552a8" stroke-width="2.6"/>
<path d="M666.1,697.2 L672.6,696.8 M678.7,696.4 L685.3,695.7 M691.4,695.0 L697.9,694.0 M704.1,692.8 L710.5,691.3 M716.8,689.5 L723.1,687.3 M729.7,684.6 L735.5,681.6 M742.6,677.4 L747.9,673.6 M755.5,667.3 L760.3,662.7 M768.5,653.4 L772.6,648.2 M781.5,634.9 L784.9,629.2 M794.4,611.2 L797.3,605.2 M807.3,581.6 L809.7,575.5 M820.1,546.0 L822.2,539.7 M826.5,525.9 L828.4,519.6 M832.9,504.4 L834.7,498.0 M839.3,481.5 L841.0,475.1 M845.6,457.4 L847.3,451.0 M852.0,432.2 L853.6,425.8 M858.3,406.1 L859.9,399.7 M864.7,379.4 L866.2,373.0 M871.0,352.3 L872.5,345.9 M877.3,325.2 L878.8,318.8 M883.6,298.3 L885.2,291.9 M889.9,272.0 L891.5,265.6 M896.2,246.7 L897.9,240.3 M902.5,222.6 L904.2,216.2 M908.8,200.2 L910.6,193.9 M921.2,161.8 L923.5,155.6 M933.4,133.6 L936.6,127.9 M945.0,117.1 L950.3,113.3 M957.2,111.9 L963.4,114.1 M971.0,121.7 L974.9,127.1 M984.3,145.5 L986.9,151.5 M997.3,180.6 L999.2,186.9 M1003.7,201.7 L1005.5,208.1 M1010.1,224.7 L1011.7,231.1 M1016.4,249.2 L1018.0,255.6 M1022.8,275.0 L1024.3,281.4 M1029.1,301.5 L1030.6,307.9 M1035.5,328.5 L1036.9,334.9 M1041.8,355.7 L1043.3,362.1 M1048.1,382.6 L1049.6,389.1 M1054.4,409.1 L1055.9,415.6 M1060.7,434.9 L1062.3,441.3 M1067.0,459.8 L1068.7,466.2 M1073.3,483.5 L1075.0,489.9 M1079.6,505.9 L1081.4,512.3 M1085.8,527.0 L1087.8,533.3 M1098.3,564.7 L1100.6,570.9 M1110.8,596.3 L1113.4,602.4 M1123.2,622.1 L1126.3,627.9 M1135.5,642.6 L1139.3,648.0 M1147.8,658.5 L1152.3,663.3 M1160.1,670.5 L1165.3,674.5 M1172.5,679.3 L1178.2,682.6 M1184.9,685.7 L1191.1,688.1 M1197.5,690.2 L1203.8,691.9 M1210.0,693.2 L1216.6,694.4 M1222.7,695.2 L1229.2,696.0 M1235.3,696.5 L1241.9,697.0" fill="none" stroke="#3552a8" stroke-width="3.7"/>
<path d="M362.0,695.6 L369.5,694.5 M374.7,693.5 L382.1,691.6 M387.5,689.8 L394.6,687.0 M400.4,684.2 L407.0,680.6 M413.1,676.9 L419.6,672.8 M425.7,668.9 L432.3,665.0 M438.1,661.9 L445.2,659.0 M450.5,657.6 L458.1,656.8 M463.3,657.2 L470.6,659.0 M476.2,661.2 L483.0,664.6 M489.0,668.2 L495.5,672.2 M501.7,676.1 L508.1,680.1 M514.1,683.4 L521.0,686.8 M526.6,689.1 L533.8,691.6 M539.1,693.0 L546.6,694.5 M551.7,695.3 L559.3,696.1 M564.4,696.4 L571.9,696.8" fill="none" stroke="#0c0c0c" stroke-width="2.9"/>
<path d="M300.9,676.4 L305.1,713.5 L309.3,694.2 L313.5,701.3 L317.7,703.3 L321.9,678.9 L326.2,670.8 L330.4,639.3 L334.6,652.5 L338.8,665.5 L343.0,678.4 L347.3,729.8 L351.5,695.2 L355.7,717.1 L359.9,706.4 L364.1,673.4 L368.3,680.0 L372.6,682.0 L376.8,669.8 L381.0,680.8 L385.2,669.3 L389.4,677.9 L393.7,683.0 L397.9,692.2 L402.1,667.0 L406.3,641.8 L410.5,659.6 L414.7,697.2 L419.0,689.1 L423.2,657.1 L427.4,658.1 L431.6,680.0 L435.8,639.3 L440.1,655.1 L444.3,657.1 L448.5,661.0 L452.7,654.4 L456.9,648.3 L461.1,615.2 L465.4,626.9 L469.6,666.6 L473.8,667.1 L478.0,642.7 L482.2,648.8 L486.5,653.9 L490.7,670.1 L494.9,686.9 L499.1,671.6 L503.3,671.6 L507.5,658.4 L511.8,673.2 L516.0,678.3 L520.2,657.9 L524.4,663.0 L528.6,673.2 L532.9,711.8 L537.1,689.4 L541.3,671.1 L545.5,668.1 L549.7,660.5 L553.9,664.0 L558.2,632.5 L562.4,649.8 L566.6,655.4 L570.8,655.4 L575.0,665.0 L579.2,707.7 L583.5,669.1 L587.7,691.5 L591.9,713.6 L596.1,683.0 L600.3,665.7 L604.6,672.8 L608.8,657.1 L613.0,680.0 L617.2,689.6 L621.4,672.8 L625.6,678.4 L629.9,699.3 L634.1,672.3 L638.3,691.6 L642.5,684.5 L646.7,693.2 L651.0,697.7 L655.2,686.6 L659.4,684.5 L663.6,688.6 L667.8,676.4 L672.0,689.1 L676.3,704.9 L680.5,667.8 L684.7,669.8 L688.9,639.3 L693.1,681.0 L697.4,680.0 L701.6,671.3 L705.8,701.8 L710.0,661.7 L714.2,665.2 L718.4,685.0 L722.7,676.9 L726.9,684.0 L731.1,687.1 L735.3,683.5 L739.5,675.4 L743.8,683.5 L748.0,666.7 L752.2,663.1 L756.4,684.5 L760.6,686.4 L764.8,651.5 L769.1,649.4 L773.3,627.1 L777.5,637.2 L781.7,656.5 L785.9,614.9 L790.1,633.2 L794.4,649.4 L798.6,643.3 L802.8,611.8 L807.0,633.2 L811.2,620.0 L815.5,614.9 L819.7,562.0 L823.9,558.7 L828.1,555.1 L832.3,535.5 L836.5,485.4 L840.8,473.5 L845.0,466.9 L849.2,433.2 L853.4,395.7 L857.6,358.1 L861.9,366.8 L866.1,366.8 L870.3,285.0 L874.5,215.5 L878.7,284.5 L882.9,248.0 L887.2,230.9 L891.4,255.7 L895.6,227.5 L899.8,229.6 L904.0,174.8 L908.3,116.1 L912.5,145.0 L916.7,151.6 L920.9,121.1 L925.1,90.7 L929.3,81.5 L933.6,142.0 L937.8,138.4 L942.0,60.2 L946.2,134.9 L950.4,116.6 L954.6,119.2 L958.9,141.7 L963.1,87.6 L967.3,131.3 L971.5,183.7 L975.7,201.1 L980.0,128.5 L984.2,156.2 L988.4,198.4 L992.6,169.6 L996.8,163.6 L1001.0,196.2 L1005.3,215.3 L1009.5,220.0 L1013.7,273.7 L1017.9,292.5 L1022.1,249.2 L1026.4,206.3 L1030.6,288.4 L1034.8,315.2 L1039.0,289.1 L1043.2,339.0 L1047.4,348.4 L1051.7,395.0 L1055.9,398.3 L1060.1,368.2 L1064.3,407.7 L1068.5,447.9 L1072.8,453.2 L1077.0,480.4 L1081.2,492.1 L1085.4,524.2 L1089.6,529.6 L1093.8,539.6 L1098.1,573.1 L1102.3,527.6 L1106.5,545.0 L1110.7,619.8 L1114.9,589.2 L1119.2,602.4 L1123.4,577.8 L1127.6,577.1 L1131.8,594.0 L1136.0,595.7 L1140.2,650.0 L1144.5,654.0 L1148.7,617.4 L1152.9,610.4 L1157.1,644.4 L1161.3,678.4 L1165.5,671.3 L1169.8,622.0 L1174.0,656.6 L1178.2,642.3 L1182.4,648.9 L1186.6,665.7 L1190.9,652.0 L1195.1,665.2 L1199.3,701.3 L1203.5,673.9 L1207.7,669.8 L1211.9,666.7 L1216.2,676.6 L1220.4,692.6 L1224.6,693.4 L1228.8,687.4 L1233.0,653.2 L1237.3,681.8 L1241.5,702.5 L1245.7,684.5 L1249.9,665.4 L1254.1,663.7 L1258.3,691.1 L1262.6,678.4 L1266.8,716.5 L1271.0,709.4 L1275.2,655.1 L1279.4,686.6 L1283.7,673.9 L1287.9,689.1 L1292.1,697.7 L1296.3,700.3 L1300.5,685.0 L1304.7,647.9 L1309.0,655.1 L1313.2,671.8" fill="none" stroke="#0c0c0c" stroke-width="3.7" stroke-linejoin="round"/>
<path d="M300.9,887.4 L305.1,880.3 L309.3,866.6 L313.5,867.6 L317.7,875.2 L321.9,885.9 L326.2,869.1 L330.4,860.0 L334.6,855.9 L338.8,865.0 L343.0,891.5 L347.3,903.7 L351.5,876.7 L355.7,889.9 L359.9,882.3 L364.1,858.4 L368.3,870.1 L372.6,879.3 L376.8,874.2 L381.0,878.3 L385.2,863.5 L389.4,896.5 L393.7,875.2 L397.9,847.8 L402.1,837.1 L406.3,855.4 L410.5,842.2 L414.7,852.3 L419.0,830.5 L423.2,854.9 L427.4,866.6 L431.6,821.8 L435.8,825.4 L440.1,831.8 L444.3,834.9 L448.5,831.6 L452.7,806.3 L456.9,850.0 L461.1,854.0 L465.4,873.3 L469.6,852.5 L473.8,831.7 L478.0,828.1 L482.2,842.8 L486.5,863.2 L490.7,848.4 L494.9,847.9 L499.1,854.5 L503.3,848.9 L507.5,859.1 L511.8,880.4 L516.0,868.8 L520.2,864.2 L524.4,851.5 L528.6,850.5 L532.9,848.4 L537.1,859.1 L541.3,881.5 L545.5,860.1 L549.7,842.3 L553.9,865.7 L558.2,840.8 L562.4,824.0 L566.6,835.7 L570.8,862.2 L575.0,859.1 L579.2,857.6 L583.5,857.6 L587.7,861.6 L591.9,871.3 L596.1,845.6 L600.3,840.8 L604.6,832.7 L608.8,855.0 L613.0,877.4 L617.2,859.6 L621.4,864.7 L625.6,843.4 L629.9,842.8 L634.1,872.3 L638.3,876.9 L642.5,869.3 L646.7,871.3 L651.0,878.4 L655.2,871.3 L659.4,865.2 L663.6,854.5 L667.8,870.3 L672.0,877.4 L676.3,871.3 L680.5,851.5 L684.7,872.3 L688.9,883.5 L693.1,870.3 L697.4,889.1 L701.6,876.4 L705.8,879.4 L710.0,883.0 L714.2,860.1 L718.4,868.3 L722.7,860.1 L726.9,874.3 L731.1,868.3 L735.3,861.1 L739.5,848.4 L743.8,876.4 L748.0,862.7 L752.2,873.3 L756.4,864.2 L760.6,855.0 L764.8,860.1 L769.1,867.7 L773.3,867.7 L777.5,839.8 L781.7,861.1 L785.9,877.4 L790.1,852.5 L794.4,864.2 L798.6,866.7 L802.8,844.9 L807.0,834.7 L811.2,846.9 L815.5,860.1 L819.7,892.6 L823.9,884.5 L828.1,861.1 L832.3,861.1 L836.5,867.2 L840.8,867.7 L845.0,876.4 L849.2,855.5 L853.4,859.6 L857.6,861.1 L861.9,860.1 L866.1,832.7 L870.3,835.7 L874.5,858.1 L878.7,858.1 L882.9,852.0 L887.2,847.9 L891.4,839.8 L895.6,826.1 L899.8,847.6 L904.0,846.9 L908.3,839.8 L912.5,843.9 L916.7,848.4 L920.9,832.7 L925.1,866.2 L929.3,865.2 L933.6,845.9 L937.8,855.5 L942.0,842.3 L946.2,862.2 L950.4,833.7 L954.6,836.2 L958.9,825.6 L963.1,835.7 L967.3,852.0 L971.5,858.6 L975.7,862.2 L980.0,859.6 L984.2,859.6 L988.4,867.7 L992.6,859.1 L996.8,853.0 L1001.0,820.5 L1005.3,867.7 L1009.5,853.5 L1013.7,861.1 L1017.9,867.7 L1022.1,850.0 L1026.4,851.5 L1030.6,859.6 L1034.8,854.5 L1039.0,851.5 L1043.2,873.8 L1047.4,883.5 L1051.7,858.6 L1055.9,870.3 L1060.1,873.3 L1064.3,871.8 L1068.5,861.1 L1072.8,870.3 L1077.0,878.4 L1081.2,868.8 L1085.4,875.4 L1089.6,881.0 L1093.8,885.0 L1098.1,879.4 L1102.3,876.9 L1106.5,881.0 L1110.7,871.3 L1114.9,853.0 L1119.2,836.7 L1123.4,844.9 L1127.6,874.9 L1131.8,852.0 L1136.0,854.5 L1140.2,870.3 L1144.5,883.0 L1148.7,882.0 L1152.9,867.2 L1157.1,870.3 L1161.3,870.8 L1165.5,877.9 L1169.8,863.7 L1174.0,867.7 L1178.2,857.6 L1182.4,852.5 L1186.6,857.1 L1190.9,861.4 L1195.1,855.0 L1199.3,870.8 L1203.5,880.4 L1207.7,843.4 L1211.9,851.5 L1216.2,857.6 L1220.4,868.3 L1224.6,876.4 L1228.8,894.7 L1233.0,879.4 L1237.3,863.7 L1241.5,875.4 L1245.7,864.2 L1249.9,866.7 L1254.1,866.7 L1258.3,872.3 L1262.6,870.3 L1266.8,842.3 L1271.0,862.2 L1275.2,868.3 L1279.4,841.3 L1283.7,846.4 L1287.9,849.5 L1292.1,860.1 L1296.3,886.0 L1300.5,883.0 L1304.7,866.2 L1309.0,876.9 L1313.2,884.6" fill="none" stroke="#0c0c0c" stroke-width="3.7" stroke-linejoin="round"/>
<rect x="216.5" y="4.45" width="1181" height="945.95" fill="none" stroke="#0c0c0c" stroke-width="3.1"/>
<path d="M385.2,950 V937.6 M553.9,950 V937.6 M722.6,950 V937.6 M891.4,950 V937.6 M1060.1,950 V937.6 M1228.8,950 V937.6" stroke="#0c0c0c" stroke-width="2.8" fill="none"/>
<g opacity="0.999">
<text transform="translate(217.2,1009.5) scale(1,1.028)" font-size="55" text-anchor="middle">160</text>
<text transform="translate(397.1,1009.5) scale(1,1.028)" font-size="55" text-anchor="middle">162</text>
<text transform="translate(565.3,1009.5) scale(1,1.028)" font-size="55" text-anchor="middle">164</text>
<text transform="translate(734.4,1009.5) scale(1,1.028)" font-size="55" text-anchor="middle">166</text>
<text transform="translate(902.6,1009.5) scale(1,1.028)" font-size="55" text-anchor="middle">168</text>
<text transform="translate(1072.2,1009.5) scale(1,1.028)" font-size="55" text-anchor="middle">170</text>
<text transform="translate(1239.9,1009.5) scale(1,1.028)" font-size="55" text-anchor="middle">172</text>
<text transform="translate(1397.3,1009.5) scale(1,1.028)" font-size="55" text-anchor="middle">174</text>
<text transform="translate(947.3,50.5) scale(1,1.028)" font-size="40.3" text-anchor="middle">168.78</text>
<text transform="translate(465.9,604.6) scale(1,1.028)" font-size="40.3" text-anchor="middle">162.73</text>
<text transform="translate(579.0,626.4) scale(1,1.028)" font-size="40.3" text-anchor="middle">164.23</text>
<text transform="translate(457.8,796.6) scale(1,1.028)" font-size="40.3" text-anchor="middle">162.73</text>
<text transform="translate(580.5,813.0) scale(1,1.028)" font-size="40.3" text-anchor="middle">164.23</text>
<text transform="translate(794.0,783.4) scale(1,1.028)" font-size="40.3" text-anchor="middle">166.83</text>
<text transform="translate(886.0,818.4) scale(1,1.028)" font-size="40.3" text-anchor="middle">167.87</text>
<text transform="translate(980.8,773.6) scale(1,1.028)" font-size="40.3" text-anchor="middle">168.78</text>
<text transform="translate(257.8,698.6) scale(1,1.028)" font-size="53.5" text-anchor="start">B</text>
<text transform="translate(253.6,877.2) scale(1,1.028)" font-size="53.5" text-anchor="start">A</text>
<text x="684" y="1096.8" font-size="55"><tspan class="cj">结合能</tspan><tspan dx="1.5">/eV</tspan></text>
<text transform="translate(184.5,478) rotate(-90)" font-size="55" text-anchor="middle" class="cj">强度</text>
<text y="1173" font-size="55"><tspan x="518.3">A—</tspan><tspan class="cj" font-size="54" letter-spacing="1" dx="2.4" dy="0.8">中毒前</tspan><tspan class="cj" dx="1.2" dy="4.4">；</tspan><tspan x="835.7" y="1173">B—</tspan><tspan class="cj" font-size="54" letter-spacing="1" dx="1.6" dy="0.8">中毒后</tspan></text>
</g>
</svg></body></html>
